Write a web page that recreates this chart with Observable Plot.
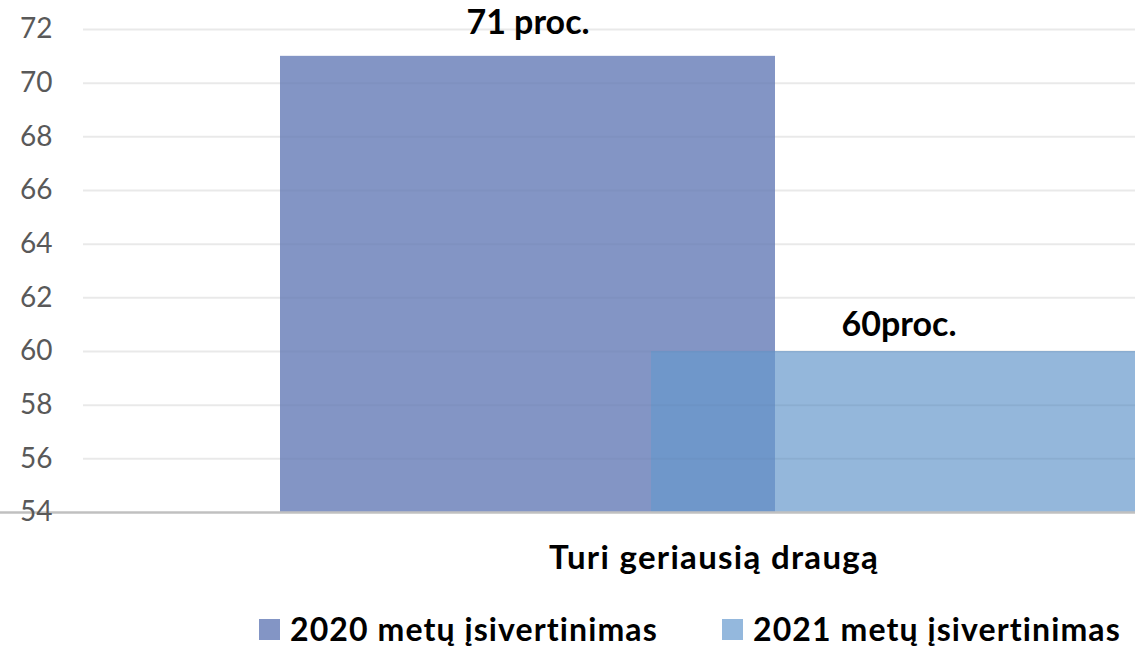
<!DOCTYPE html>
<html>
<head>
<meta charset="utf-8">
<script src="https://cdn.jsdelivr.net/npm/d3@7"></script>
<script src="https://cdn.jsdelivr.net/npm/@observablehq/plot@0.6"></script>
<style>
  html, body { margin: 0; padding: 0; background: #fff; }
  body { width: 1135px; height: 646px; overflow: hidden; position: relative; font-family: Lato, "Open Sans", sans-serif; }
  #chart { position: absolute; left: 0; top: 0; }
  #xlabel { position: absolute; left: 414px; width: 600px; top: 537px; text-align: center; font-size: 33px; letter-spacing: 1.3px; font-weight: bold; color: #000; line-height: 38px; white-space: nowrap; }
  .leg { position: absolute; top: 610px; display: flex; align-items: center; font-size: 32px; letter-spacing: 1.1px; font-weight: bold; color: #000; line-height: 38px; white-space: nowrap; }
  .sw { width: 21px; height: 21px; margin-right: 10px; }
</style>
</head>
<body>
<div id="chart"></div>
<div id="xlabel"></div>
<div id="legend"></div>
<script>
const categories = ["2020 metų įsivertinimas", "2021 metų įsivertinimas"];
const values = [71, 60];
const valueLabels = ["71 proc.", "60proc."];
const groupLabel = "Turi geriausią draugą";
const yTicks = [54, 56, 58, 60, 62, 64, 66, 68, 70, 72];
const colors = ["#8395c5", "#6699cc"];
const opacities = [1, 0.7];
const legendColors = ["#8395c5", "#94b8dd"];

const data = categories.map((c, i) => ({ category: c, value: values[i], label: valueLabels[i], op: opacities[i] }));

const chart = Plot.plot({
  width: 1135,
  height: 530,
  marginTop: 29,
  marginBottom: 18,
  marginLeft: 0,
  marginRight: 0,
  style: { fontFamily: "Lato, 'Open Sans', sans-serif", background: "#fff" },
  x: { domain: categories, range: [342, 1084], padding: 0, axis: null },
  y: { domain: [54, 72], axis: null },
  color: { domain: categories, range: colors },
  opacity: { type: "identity" },
  marks: [
    Plot.ruleY(yTicks.filter(t => t > 54), { stroke: "#efefef", strokeWidth: 2, insetLeft: 83 }),
    Plot.barY(data, { x: "category", y1: 54, y2: "value", fill: "category", fillOpacity: "op", insetLeft: -62, insetRight: -62 }),
    Plot.ruleY(yTicks.filter(t => t > 54), { stroke: "#000", strokeOpacity: 0.025, strokeWidth: 2, insetLeft: 83 }),
    Plot.ruleY([54], { stroke: "#c0c0c0", strokeWidth: 2.5 }),
    Plot.axisY(yTicks, { tickSize: 0, tickPadding: 0, dx: 52, fontSize: 28, fill: "#595959", label: null }),
    Plot.text(data, { filter: (d, i) => i === 0, x: "category", y: "value", text: "label", dy: -33, fontSize: 34, fontWeight: "bold", fill: "#000" }),
    Plot.text(data, { filter: (d, i) => i === 1, x: "category", y: "value", text: "label", dy: -26, fontSize: 34, fontWeight: "bold", fill: "#000" })
  ]
});
document.getElementById("chart").appendChild(chart);
document.getElementById("xlabel").textContent = groupLabel;

const legendLefts = [259, 722];
const legend = document.getElementById("legend");
categories.forEach((c, i) => {
  const item = document.createElement("div");
  item.className = "leg";
  item.style.left = legendLefts[i] + "px";
  const sw = document.createElement("div");
  sw.className = "sw";
  sw.style.background = legendColors[i];
  const t = document.createElement("span");
  t.textContent = c;
  item.appendChild(sw);
  item.appendChild(t);
  legend.appendChild(item);
});
</script>
</body>
</html>
